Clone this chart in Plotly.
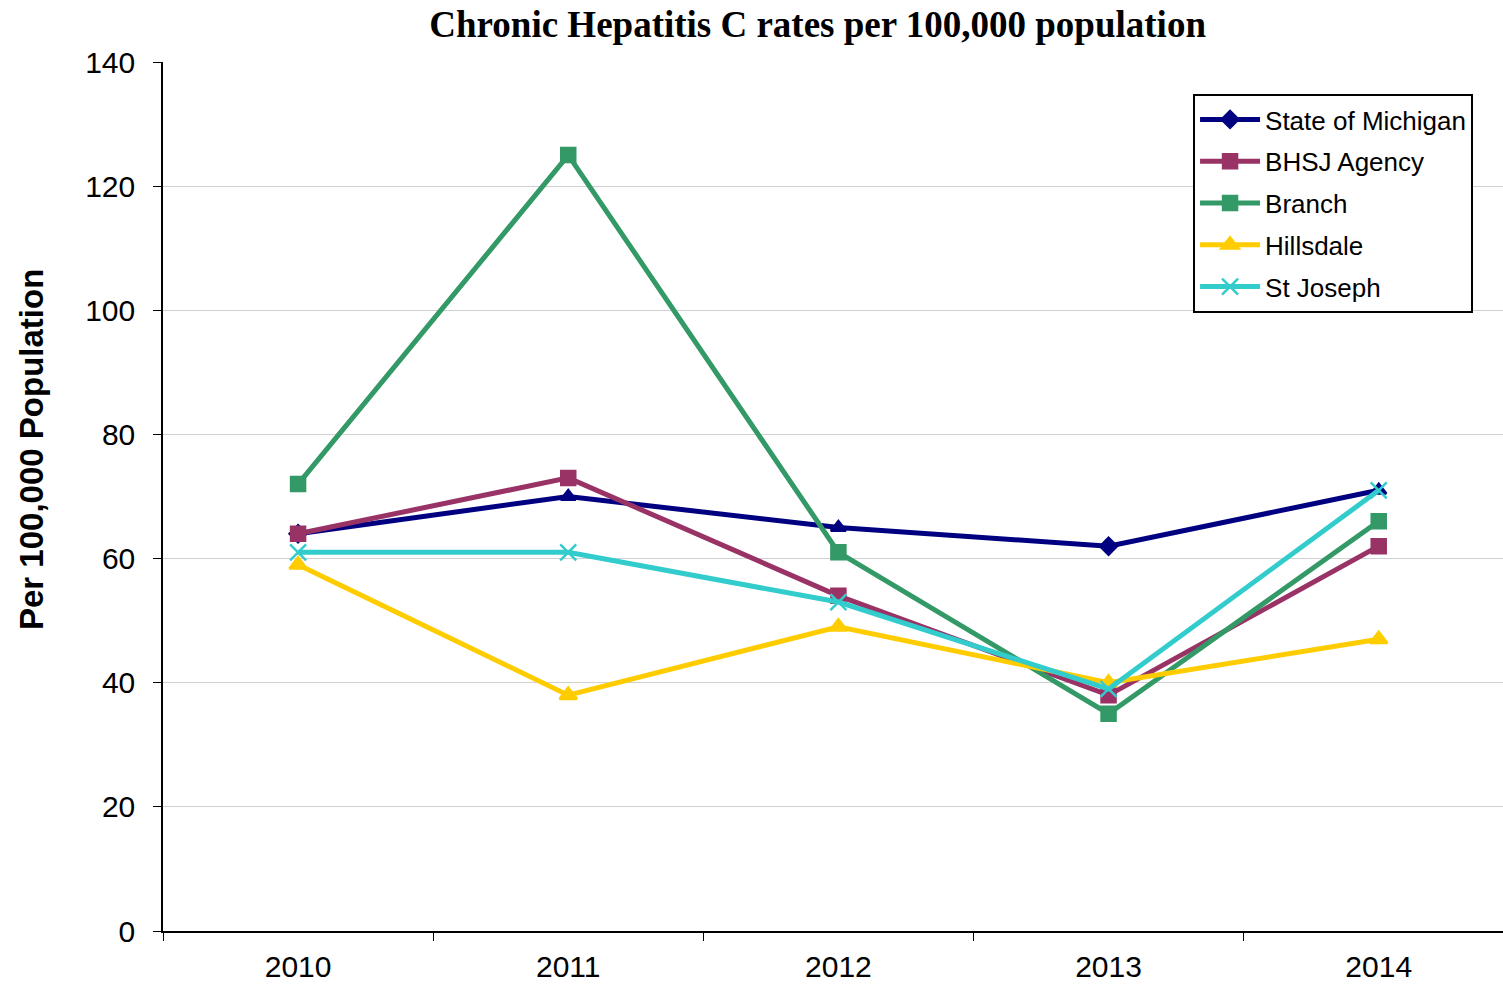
import plotly.graph_objects as go

years = ["2010", "2011", "2012", "2013", "2014"]
state_of_michigan = [64, 70, 65, 62, 71]
bhsj_agency = [64, 73, 54, 38, 62]
branch = [72, 125, 61, 35, 66]
hillsdale = [59, 38, 49, 40, 47]
st_joseph = [61, 61, 53, 39, 71]

series = [
    ("State of Michigan", state_of_michigan, "#000080",
     ["diamond", "triangle-up", "triangle-up", "diamond", "triangle-up"], 13),
    ("BHSJ Agency", bhsj_agency, "#993366", "square", 14),
    ("Branch", branch, "#339966", "square", 14),
    ("Hillsdale", hillsdale, "#FFCC00", "triangle-up", 15),
    ("St Joseph", st_joseph, "#33CCCC", "x-thin", 16),
]

fig = go.Figure()
for name, vals, color, symbol, size in series:
    fig.add_trace(go.Scatter(
        x=years, y=vals, name=name, mode="lines+markers", legendgroup=name,
        line=dict(color=color, width=5),
        marker=dict(symbol=symbol, size=size, color=color,
                    line=dict(color=color, width=2.5)),
    ))

fig.update_layout(
    width=1503, height=984,
    margin=dict(l=163, r=0, t=62, b=53),
    paper_bgcolor="white", plot_bgcolor="white",
    title=dict(text="<b>Chronic Hepatitis C rates per 100,000 population</b>",
               x=0.544, xanchor="center", y=0.976, yanchor="middle",
               font=dict(family="Liberation Serif", size=37, color="black")),
    font=dict(family="Liberation Sans", color="black"),
    legend=dict(x=0.7687, y=(931 - 94) / 869, xanchor="left", yanchor="top",
                bgcolor="white", bordercolor="black", borderwidth=2,
                font=dict(size=26, family="Liberation Sans"),
                tracegroupgap=5, itemwidth=60),
    showlegend=True,
)

# y-axis title placed as a rotated annotation left of the tick labels
fig.add_annotation(
    text="<b>Per 100,000 Population</b>", textangle=-90,
    xref="paper", yref="paper", x=(31 - 163) / 1340, y=(931 - 450) / 869,
    xanchor="center", yanchor="middle", showarrow=False,
    font=dict(size=33, family="Liberation Sans", color="black"),
)

fig.update_xaxes(
    type="category", range=[-0.5, 4.46],
    showgrid=False, showline=True, linecolor="black", linewidth=1.5,
    ticks="outside", tickson="boundaries", ticklen=8, tickcolor="black",
    tickfont=dict(size=30), ticklabelstandoff=8, zeroline=False,
)
fig.update_yaxes(
    range=[0, 140], dtick=20,
    showgrid=True, gridcolor="#d0d0d0", gridwidth=1,
    showline=True, linecolor="black", linewidth=1.5,
    ticks="outside", ticklen=8, tickcolor="black",
    tickfont=dict(size=30), ticklabelstandoff=12, zeroline=False,
)

fig.write_html("out.html")
